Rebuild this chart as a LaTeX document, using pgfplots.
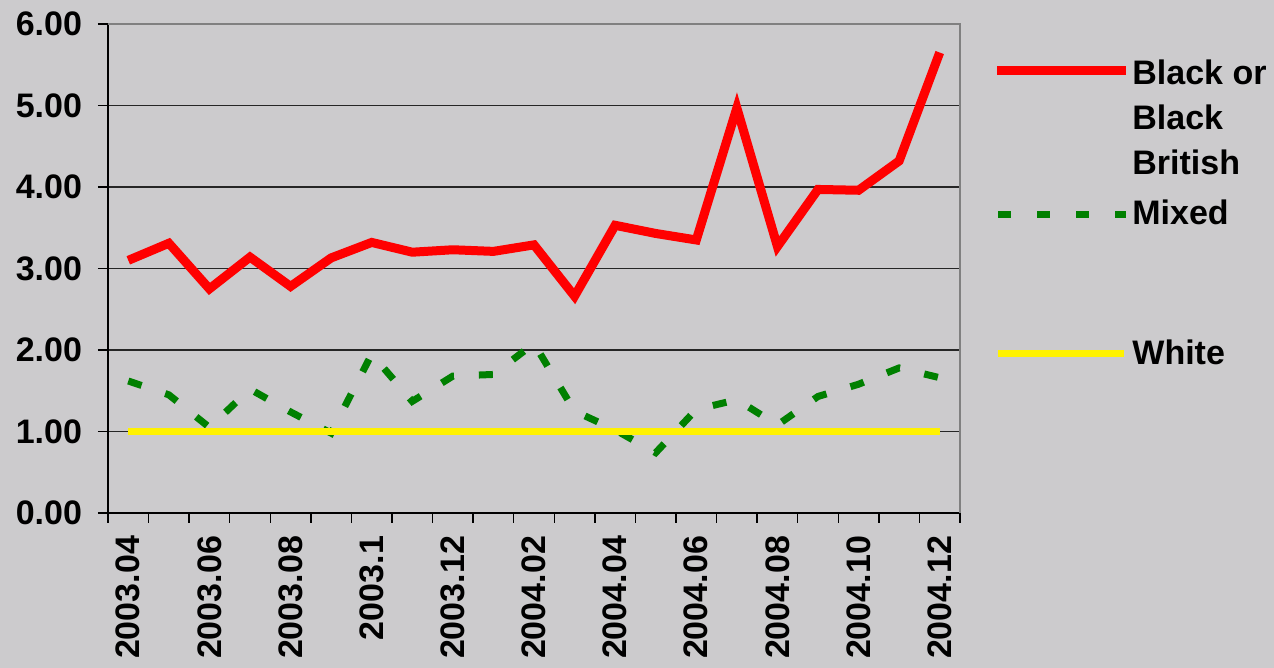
\documentclass[border=0pt]{standalone}
\usepackage{pgfplots}
\pgfplotsset{compat=1.18}
\usepackage{fontspec}
\setmainfont{Liberation Sans}
\definecolor{bg}{RGB}{204,203,205}
\definecolor{mixgreen}{RGB}{0,128,0}
\definecolor{brdgray}{RGB}{128,128,128}
\newcommand{\bigbf}{\fontsize{17}{20}\selectfont\bfseries}
\begin{document}
\begin{tikzpicture}
\fill[bg] (-54pt,-77.5pt) rectangle (583pt,256.5pt);
\begin{axis}[
  at={(0pt,0pt)}, anchor=south west,
  scale only axis, width=426pt, height=244.5pt,
  xmin=0.5, xmax=21.5, ymin=0, ymax=6,
  axis lines*=left,
  axis line style={black, line width=0.7pt},
  tick style={black, line width=0.7pt},
  tick align=outside,
  major tick length=5pt,
  xtick={0.5,1.5,...,21.5}, xticklabels={},
  extra x ticks={1,3,5,7,9,11,13,15,17,19,21},
  extra x tick labels={2003.04,2003.06,2003.08,2003.1,2003.12,2004.02,2004.04,2004.06,2004.08,2004.10,2004.12},
  extra x tick style={major tick length=0pt, grid=none,
     tick label style={rotate=90, anchor=east, xshift=-8pt, font=\bigbf}},
  ytick={0,1,2,3,4,5,6},
  ymajorgrids, grid style={black!85, line width=0.6pt},
  yticklabel style={font=\bigbf, xshift=-4.5pt},
  /pgf/number format/fixed, /pgf/number format/fixed zerofill,
  /pgf/number format/precision=2,
  /pgf/number format/assume math mode=true,
  clip=false,
]
\addplot[red, line width=4.5pt, line join=miter, mark=none] coordinates {
 (1,3.10) (2,3.31) (3,2.75) (4,3.14) (5,2.78) (6,3.13) (7,3.32) (8,3.20) (9,3.23) (10,3.21) (11,3.29)
 (12,2.66) (13,3.53) (14,3.43) (15,3.35) (16,4.97) (17,3.27) (18,3.97) (19,3.96) (20,4.32) (21,5.65)};
\addplot[mixgreen, line width=3.5pt, dash pattern=on 7pt off 12.5pt, mark=none] coordinates {
 (1,1.62) (2,1.45) (3,1.05) (4,1.52) (5,1.24) (6,0.98) (7,1.95) (8,1.37) (9,1.68) (10,1.70) (11,2.08)
 (12,1.25) (13,1.02) (14,0.74) (15,1.27) (16,1.39) (17,1.08) (18,1.43) (19,1.58) (20,1.78) (21,1.66)};
\addplot[yellow, line width=3.5pt, mark=none] coordinates {
 (1,1) (2,1) (3,1) (4,1) (5,1) (6,1) (7,1) (8,1) (9,1) (10,1) (11,1)
 (12,1) (13,1) (14,1) (15,1) (16,1) (17,1) (18,1) (19,1) (20,1) (21,1)};
\draw[brdgray, line width=1.2pt] (rel axis cs:0,1) -- (rel axis cs:1,1) -- (rel axis cs:1,0);
\end{axis}
% legend
\draw[red, line width=4.5pt] (444.5pt,221pt) -- (509pt,221pt);
\node[anchor=base west, inner sep=0pt, font=\bigbf] at (512pt,214pt) {Black or};
\node[anchor=base west, inner sep=0pt, font=\bigbf] at (512pt,191.5pt) {Black};
\node[anchor=base west, inner sep=0pt, font=\bigbf] at (512pt,169pt) {British};
\draw[mixgreen, line width=3.5pt, dash pattern=on 6.5pt off 13pt] (445pt,149pt) -- (509pt,149pt);
\node[anchor=base west, inner sep=0pt, font=\bigbf] at (512pt,144pt) {Mixed};
\draw[yellow, line width=3.5pt] (445pt,79.5pt) -- (508pt,79.5pt);
\node[anchor=base west, inner sep=0pt, font=\bigbf] at (512pt,74pt) {White};
\end{tikzpicture}
\end{document}
